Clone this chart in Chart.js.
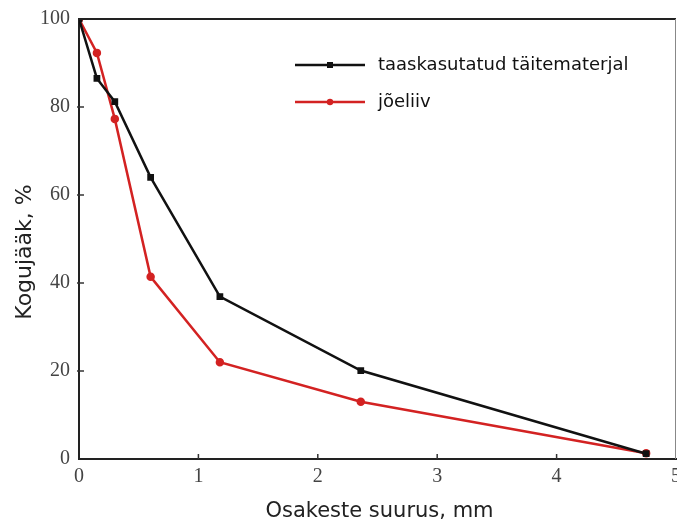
<!DOCTYPE html>
<html>
<head>
<meta charset="utf-8">
<script src="https://cdn.jsdelivr.net/npm/chart.js"></script>
<style>
  body { margin: 0; background: #fff; }
  #wrap { width: 677px; height: 524px; }
</style>
</head>
<body>
<div id="wrap"><canvas id="chart" width="677" height="524"></canvas></div>
<script>
// particle sizes, mm
var sizes = [0, 0.15, 0.3, 0.6, 1.18, 2.36, 4.75];
// cumulative passing, %
var recycled = [100, 86.5, 81.2, 64, 36.9, 20.1, 1.2];
var riverSand = [100, 92.3, 77.3, 41.4, 22, 13, 1.3];

var seriesNames = ['taaskasutatud täitematerjal', 'jõeliiv'];
var xTitle = 'Osakeste suurus, mm';
var yTitle = 'Kogujääk, %';
var xTicks = [0, 1, 2, 3, 4, 5];
var yTicks = [0, 20, 40, 60, 80, 100];

function toPoints(xs, ys) {
    return xs.map(function (x, i) { return { x: x, y: ys[i] }; });
}

// inward tick marks, top/right frame and axis titles
var framePlugin = {
    id: 'frame',
    afterDraw: function (chart) {
        var ctx = chart.ctx;
        var a = chart.chartArea;
        var xs = chart.scales.x, ys = chart.scales.y;
        ctx.save();
        ctx.strokeStyle = '#222';
        ctx.lineWidth = 2;
        ctx.beginPath();
        ctx.moveTo(a.left, a.top);
        ctx.lineTo(a.right, a.top);
        ctx.stroke();
        ctx.strokeStyle = '#888';
        ctx.lineWidth = 1;
        ctx.beginPath();
        ctx.moveTo(a.right - 0.5, a.top);
        ctx.lineTo(a.right - 0.5, a.bottom);
        ctx.stroke();
        ctx.strokeStyle = '#333';
        ctx.lineWidth = 1.5;
        xTicks.forEach(function (v) {
            var px = xs.getPixelForValue(v);
            if (v === 0 || v === 5) return;
            ctx.beginPath();
            ctx.moveTo(px, a.bottom);
            ctx.lineTo(px, a.bottom - 5);
            ctx.stroke();
        });
        yTicks.forEach(function (v) {
            var py = ys.getPixelForValue(v);
            if (v === 0 || v === 100) return;
            ctx.beginPath();
            ctx.moveTo(a.left - 2, py);
            ctx.lineTo(a.left + 5, py);
            ctx.stroke();
        });

        // axis titles
        ctx.fillStyle = '#222';
        ctx.font = '21px "DejaVu Sans"';
        ctx.textAlign = 'center';
        ctx.textBaseline = 'middle';
        ctx.fillText(xTitle, (a.left + a.right) / 2 + 2, 512);
        ctx.translate(25, 252);
        ctx.rotate(-Math.PI / 2);
        ctx.font = '22px "DejaVu Sans"';
        ctx.fillText(yTitle, 0, 0);
        ctx.restore();
    }
};

// legend drawn inside the plot
var legendPlugin = {
    id: 'innerLegend',
    afterDraw: function (chart) {
        var ctx = chart.ctx;
        ctx.save();
        chart.data.datasets.forEach(function (ds, i) {
            var y = 65 + i * 37;
            ctx.strokeStyle = ds.borderColor;
            ctx.lineWidth = 2.5;
            ctx.beginPath();
            ctx.moveTo(295, y);
            ctx.lineTo(365, y);
            ctx.stroke();
            ctx.fillStyle = ds.borderColor;
            if (ds.pointStyle === 'rect') {
                ctx.fillRect(327, y - 3, 6, 6);
            } else {
                ctx.beginPath();
                ctx.arc(330, y, 3.2, 0, Math.PI * 2);
                ctx.fill();
            }
            ctx.fillStyle = '#111';
            ctx.font = '18px "DejaVu Sans"';
            ctx.textBaseline = 'middle';
            ctx.fillText(ds.label, 378, y);
        });
        ctx.restore();
    }
};

new Chart(document.getElementById('chart'), {
    type: 'line',
    data: {
        datasets: [{
            label: seriesNames[0],
            data: toPoints(sizes, recycled),
            borderColor: '#111111',
            backgroundColor: '#111111',
            borderWidth: 2.5,
            pointStyle: 'rect',
            pointRadius: 3,
            tension: 0
        }, {
            label: seriesNames[1],
            data: toPoints(sizes, riverSand),
            borderColor: '#d32222',
            backgroundColor: '#d32222',
            borderWidth: 2.5,
            pointStyle: 'circle',
            pointRadius: 3,
            tension: 0
        }]
    },
    options: {
        responsive: false,
        animation: false,
        layout: { autoPadding: false, padding: { top: 19, right: 1, left: 0, bottom: 0 } },
        plugins: {
            legend: { display: false },
            tooltip: { enabled: false }
        },
        scales: {
            x: {
                type: 'linear',
                min: 0,
                max: 5,
                afterFit: function (s) {
                    s.height = 65;
                    s.paddingLeft = 0;
                    s.paddingRight = 0;
                },
                afterBuildTicks: function (s) { s.ticks = xTicks.map(function (v) { return { value: v }; }); },
                grid: { display: false, drawTicks: false },
                border: { display: true, color: '#222', width: 2 },
                ticks: {
                    padding: 6,
                    color: '#444',
                    maxRotation: 0,
                    font: { family: '"Liberation Serif"', size: 20 }
                }
            },
            y: {
                min: 0,
                max: 100,
                afterFit: function (s) {
                    s.width = 79;
                    s.paddingTop = 0;
                    s.paddingBottom = 0;
                },
                afterBuildTicks: function (s) { s.ticks = yTicks.map(function (v) { return { value: v }; }); },
                grid: { display: false, drawTicks: false },
                border: { display: true, color: '#222', width: 2 },
                ticks: {
                    padding: 9,
                    color: '#444',
                    font: { family: '"Liberation Serif"', size: 20 }
                }
            }
        }
    },
    plugins: [framePlugin, legendPlugin]
});
</script>
</body>
</html>
